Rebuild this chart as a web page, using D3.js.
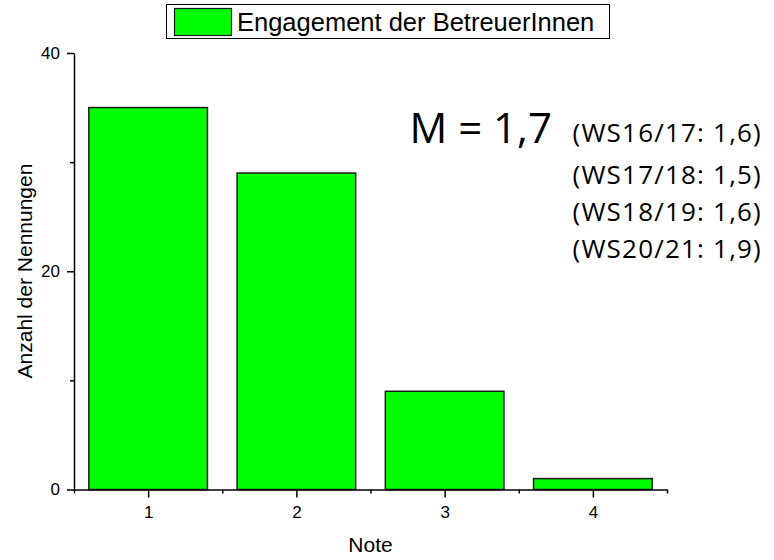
<!DOCTYPE html>
<html>
<head>
<meta charset="utf-8">
<script src="https://cdn.jsdelivr.net/npm/d3@7"></script>
<style>
html,body{margin:0;padding:0;background:#fff;}
svg{display:block;}
</style>
</head>
<body>
<svg id="chart" width="774" height="560"></svg>
<script>
const categories = [1, 2, 3, 4];
const counts = [35, 29, 9, 1];
const yTicks = [0, 20, 40];
const yMinorTicks = [10, 30];
const xMinorTicks = [0.5, 1.5, 2.5, 3.5, 4.5];
const seriesName = "Engagement der BetreuerInnen";
const meanLabel = "M = 1,7";
const previousYears = ["(WS16/17: 1,6)", "(WS17/18: 1,5)", "(WS18/19: 1,6)", "(WS20/21: 1,9)"];
const xTitle = "Note";
const yTitle = "Anzahl der Nennungen";

(function () {
const svg = d3.select("#chart");
const mLeft = 74, mRight = 667, mTop = 53, mBottom = 489.5;

const x = d3.scaleLinear().domain([0.5, 4.5]).range([mLeft, mRight]);
const y = d3.scaleLinear().domain([0, 40]).range([mBottom, mTop]);
const barW = (x(1) - x(0)) * 0.8;

const font = "'Liberation Sans', Arial, sans-serif";

// bars
svg.append("g").selectAll("rect").data(categories).join("rect")
  .attr("x", (d) => x(d) - barW / 2)
  .attr("y", (d, i) => y(counts[i]))
  .attr("width", barW)
  .attr("height", (d, i) => y(0) - y(counts[i]))
  .attr("fill", "#00ff00")
  .attr("stroke", "#1a1a1a")
  .attr("stroke-width", 1.5);

// x axis
const xAxis = svg.append("g").attr("transform", `translate(0,${mBottom})`)
  .call(d3.axisBottom(x).tickValues(categories).tickSize(8).tickSizeOuter(0).tickPadding(8).tickFormat(d3.format("d")));
const xMinor = svg.append("g").attr("transform", `translate(0,${mBottom})`)
  .call(d3.axisBottom(x).tickValues(xMinorTicks).tickSize(4).tickSizeOuter(0).tickFormat(""));
xMinor.select(".domain").remove();

// y axis
const yAxis = svg.append("g").attr("transform", `translate(${mLeft},0)`)
  .call(d3.axisLeft(y).tickValues(yTicks).tickSize(7).tickSizeOuter(0).tickPadding(7));
const yMinor = svg.append("g").attr("transform", `translate(${mLeft},0)`)
  .call(d3.axisLeft(y).tickValues(yMinorTicks).tickSize(4).tickSizeOuter(0).tickFormat(""));
yMinor.select(".domain").remove();

[xAxis, xMinor, yAxis, yMinor].forEach(g => {
  g.selectAll("path,line").attr("stroke", "#000").attr("stroke-width", 1.5);
  g.selectAll("text").attr("font-family", font).attr("font-size", 17).attr("fill", "#000");
});

// axis titles
svg.append("text").attr("x", (mLeft + mRight) / 2).attr("y", 552)
  .attr("text-anchor", "middle").attr("font-family", font).attr("font-size", 21).text(xTitle);
svg.append("text").attr("transform", `translate(32,271) rotate(-90)`)
  .attr("text-anchor", "middle").attr("font-family", font).attr("font-size", 21).text(yTitle);

// legend
const lg = svg.append("g");
lg.append("rect").attr("x", 166.5).attr("y", 4.5).attr("width", 443).attr("height", 34)
  .attr("fill", "#fff").attr("stroke", "#000").attr("stroke-width", 1);
lg.append("rect").attr("x", 174.5).attr("y", 8.5).attr("width", 57).attr("height", 27)
  .attr("fill", "#00ff00").attr("stroke", "#1a1a1a").attr("stroke-width", 1.2);
lg.append("text").attr("x", 237).attr("y", 30.5).attr("font-family", font).attr("font-size", 25.5).text(seriesName);

// annotation
const ann = "'Open Sans', 'Noto Sans', sans-serif";
svg.append("text").attr("x", 552).attr("y", 143).attr("text-anchor", "end")
  .attr("font-family", ann).attr("font-size", 42).text(meanLabel);
svg.append("g").selectAll("text").data(previousYears).join("text")
  .attr("x", 762).attr("y", (d, i) => i === 0 ? 142 : 147 + i * 37).attr("text-anchor", "end")
  .attr("font-family", ann).attr("font-size", 26).attr("letter-spacing", 1.2).text(d => d);
})();
</script>
</body>
</html>
